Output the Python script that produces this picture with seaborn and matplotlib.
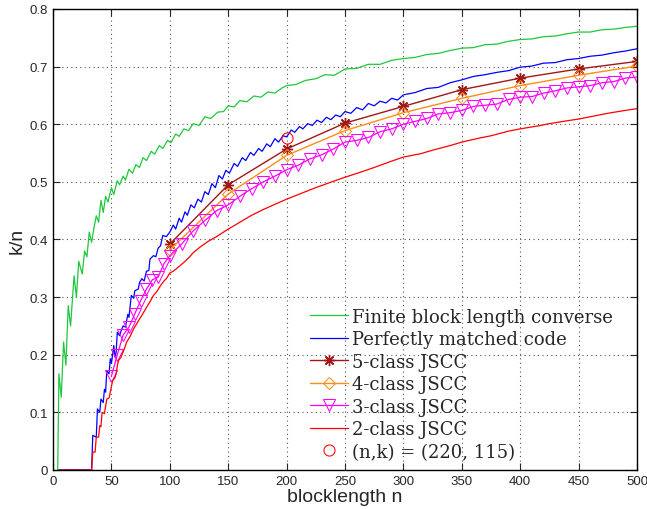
import seaborn as sns
import pandas as pd
import matplotlib
matplotlib.use('Agg')
import matplotlib.pyplot as plt

# finite block length converse (green)
conv_n = [4, 5, 7, 9, 11, 13, 15, 18, 20, 22, 25, 27, 29, 31, 33, 35, 37, 39, 41, 43,
          45, 47, 50, 52, 55, 57, 60, 62, 65, 68, 71, 74, 77, 80, 84, 87, 91, 94, 98, 101,
          105, 108, 112, 116, 120, 125, 130, 135, 141, 146, 150, 155, 160, 166, 172, 178,
          184, 190, 196, 200, 208, 216, 225, 233, 241, 250, 260, 270, 280, 290, 300, 310,
          320, 330, 340, 350, 360, 370, 380, 390, 400, 410, 420, 430, 440, 450, 460, 470,
          480, 490, 500]
conv_k = [0.0, 0.167, 0.126, 0.222, 0.182, 0.285, 0.250, 0.337, 0.300, 0.362, 0.340, 0.380,
          0.370, 0.413, 0.395, 0.420, 0.441, 0.430, 0.468, 0.447, 0.475, 0.465, 0.490, 0.478,
          0.502, 0.495, 0.510, 0.503, 0.522, 0.515, 0.530, 0.525, 0.542, 0.537, 0.553, 0.548,
          0.563, 0.558, 0.572, 0.568, 0.583, 0.579, 0.592, 0.589, 0.601, 0.598, 0.613, 0.610,
          0.621, 0.622, 0.632, 0.630, 0.641, 0.639, 0.649, 0.647, 0.656, 0.654, 0.663, 0.667,
          0.669, 0.676, 0.679, 0.686, 0.685, 0.696, 0.697, 0.704, 0.704, 0.711, 0.714, 0.716,
          0.721, 0.723, 0.728, 0.732, 0.733, 0.738, 0.739, 0.744, 0.747, 0.748, 0.752, 0.753,
          0.757, 0.760, 0.760, 0.764, 0.765, 0.768, 0.770]

# perfectly matched code (blue)
pm_n = [5, 33, 34, 37, 38, 40, 41, 43, 44, 45, 46, 48, 49, 50, 52, 53, 54, 55, 57, 58,
        60, 62, 64, 65, 67, 69, 70, 73, 74, 76, 78, 80, 82, 83, 86, 88, 90, 92, 94, 97,
        100, 103, 105, 108, 110, 113, 115, 118, 121, 124, 127, 130, 133, 136, 139, 142,
        145, 148, 151, 155, 158, 162, 165, 169, 172, 176, 179, 183, 186, 190, 193, 197,
        200, 204, 207, 211, 214, 218, 222, 226, 230, 234, 238, 242, 246, 250, 255, 260,
        265, 270, 275, 280, 285, 290, 295, 300, 310, 320, 330, 340, 350, 360, 370, 380,
        390, 400, 410, 420, 430, 440, 450, 460, 470, 480, 490, 500]
pm_k = [0.0, 0.0, 0.060, 0.057, 0.106, 0.100, 0.123, 0.117, 0.140, 0.135, 0.172, 0.167,
        0.193, 0.185, 0.216, 0.196, 0.204, 0.239, 0.233, 0.240, 0.250, 0.248, 0.270, 0.265,
        0.303, 0.298, 0.311, 0.314, 0.325, 0.332, 0.328, 0.345, 0.346, 0.366, 0.372, 0.370,
        0.385, 0.389, 0.407, 0.405, 0.413, 0.425, 0.418, 0.437, 0.430, 0.448, 0.442, 0.460,
        0.455, 0.470, 0.465, 0.483, 0.478, 0.497, 0.490, 0.511, 0.505, 0.520, 0.515, 0.532,
        0.527, 0.542, 0.537, 0.551, 0.546, 0.558, 0.553, 0.566, 0.561, 0.575, 0.569, 0.580,
        0.578, 0.590, 0.586, 0.596, 0.592, 0.601, 0.598, 0.607, 0.603, 0.612, 0.608, 0.616,
        0.613, 0.622, 0.619, 0.629, 0.625, 0.636, 0.632, 0.640, 0.637, 0.645, 0.642, 0.651,
        0.655, 0.662, 0.664, 0.672, 0.677, 0.683, 0.686, 0.690, 0.693, 0.699, 0.701, 0.706,
        0.707, 0.712, 0.714, 0.718, 0.720, 0.724, 0.727, 0.731]

# JSCC curves
c5_n = [100, 150, 200, 250, 300, 350, 400, 450, 500]
c5_k = [0.392, 0.495, 0.557, 0.602, 0.631, 0.660, 0.680, 0.696, 0.709]
c4_n = [100, 150, 200, 250, 300, 350, 400, 450, 500]
c4_k = [0.382, 0.479, 0.546, 0.589, 0.620, 0.645, 0.667, 0.685, 0.701]
c3_n = [50, 55, 60, 65, 70, 75, 80, 85, 90, 95, 100, 110, 120, 130, 140, 150, 160, 170,
        180, 190, 200, 210, 220, 230, 240, 250, 260, 270, 280, 290, 300, 310, 320, 330,
        340, 350, 360, 370, 380, 390, 400, 410, 420, 430, 440, 450, 460, 470, 480, 490, 500]
c3_k = [0.163, 0.200, 0.234, 0.248, 0.271, 0.294, 0.314, 0.330, 0.335, 0.358, 0.372, 0.392,
        0.415, 0.433, 0.450, 0.460, 0.475, 0.488, 0.500, 0.510, 0.521, 0.529, 0.540, 0.547,
        0.557, 0.569, 0.572, 0.577, 0.587, 0.592, 0.600, 0.605, 0.610, 0.618, 0.620, 0.624,
        0.631, 0.633, 0.635, 0.643, 0.647, 0.648, 0.654, 0.658, 0.663, 0.665, 0.667, 0.672,
        0.674, 0.680, 0.682]
c2_n = [5, 33, 34, 36, 37, 39, 40, 41, 42, 44, 46, 48, 49, 50, 51, 53, 54, 55, 56, 58,
        59, 61, 63, 66, 69, 72, 75, 78, 80, 83, 86, 89, 92, 95, 97, 100, 103, 106, 109,
        113, 117, 120, 126, 133, 140, 150, 160, 170, 180, 190, 200, 215, 225, 240, 250,
        265, 275, 290, 300, 315, 325, 340, 350, 365, 375, 390, 400, 415, 425, 440, 450,
        465, 475, 490, 500]
c2_k = [0.0, 0.0, 0.031, 0.031, 0.057, 0.057, 0.077, 0.075, 0.100, 0.098, 0.123, 0.125,
        0.135, 0.145, 0.155, 0.160, 0.167, 0.180, 0.190, 0.195, 0.200, 0.210, 0.222, 0.232,
        0.245, 0.255, 0.265, 0.275, 0.282, 0.292, 0.303, 0.310, 0.320, 0.328, 0.332, 0.342,
        0.345, 0.350, 0.355, 0.362, 0.370, 0.377, 0.387, 0.397, 0.405, 0.418, 0.430, 0.442,
        0.452, 0.461, 0.470, 0.482, 0.490, 0.501, 0.508, 0.518, 0.525, 0.536, 0.543, 0.549,
        0.555, 0.563, 0.569, 0.576, 0.580, 0.588, 0.592, 0.597, 0.601, 0.606, 0.609, 0.615,
        0.619, 0.624, 0.627]
pt_n = [200]
pt_k = [0.576]

sns.set_style("ticks")
plt.rcParams['font.family'] = ['Liberation Sans', 'DejaVu Sans']

fig, ax = plt.subplots(figsize=(6.47, 5.10), dpi=100)
fig.subplots_adjust(left=0.082, right=0.9845, top=0.9804, bottom=0.0765)

series = [
    (conv_n, conv_k, 'Finite block length converse', dict(color='#1ec83c', lw=0.9)),
    (pm_n, pm_k, 'Perfectly matched code', dict(color='#0000ff', lw=0.9)),
    (c5_n, c5_k, '5-class JSCC', dict(color='#a01818', lw=1.0, marker=(8, 2, 0), markersize=8,
                                       markeredgewidth=1.0, markeredgecolor='#a01818')),
    (c4_n, c4_k, '4-class JSCC', dict(color='#ff8c1a', lw=1.0, marker='D', markersize=6,
                                       markerfacecolor='none', markeredgecolor='#ff8c1a')),
    (c3_n, c3_k, '3-class JSCC', dict(color='#ff00ff', lw=0.9, marker='v', markersize=8,
                                       markerfacecolor='none', markeredgecolor='#ff00ff')),
    (c2_n, c2_k, '2-class JSCC', dict(color='#ff0000', lw=0.9)),
]
for xs, ys, name, kw in series:
    df = pd.DataFrame({'n': xs, 'k': ys})
    sns.lineplot(data=df, x='n', y='k', ax=ax, label=name, sort=False, estimator=None, **kw)

df_pt = pd.DataFrame({'n': pt_n, 'k': pt_k})
sns.lineplot(data=df_pt, x='n', y='k', ax=ax, label='(n,k) = (220, 115)', linestyle='none',
             marker='o', markersize=8, markerfacecolor='none', markeredgecolor='#ff0000',
             color='#ff0000')

ax.set_xlim(0, 500)
ax.set_ylim(0, 0.8)
ax.set_xticks(range(0, 501, 50))
ax.set_yticks([0, 0.1, 0.2, 0.3, 0.4, 0.5, 0.6, 0.7, 0.8])
ax.set_yticklabels(['0', '0.1', '0.2', '0.3', '0.4', '0.5', '0.6', '0.7', '0.8'])
ax.tick_params(direction='in', top=True, right=True, length=5, labelsize=9.5, width=0.8)
ax.grid(True, linestyle=(0, (1, 3)), color='#555555', lw=0.8)
for s in ax.spines.values():
    s.set_linewidth(1.0)
    s.set_color('black')
ax.set_xlabel('blocklength n', fontsize=14, labelpad=1)
ax.set_ylabel('k/n', fontsize=14, labelpad=3)

ax.legend(loc='lower left', bbox_to_anchor=(0.44, 0.02), frameon=False, numpoints=1,
          prop={'family': 'DejaVu Serif', 'size': 13}, handlelength=2.1,
          handletextpad=0.22, labelspacing=0.25, borderpad=0, borderaxespad=0)

plt.savefig('out.png', dpi=100)
